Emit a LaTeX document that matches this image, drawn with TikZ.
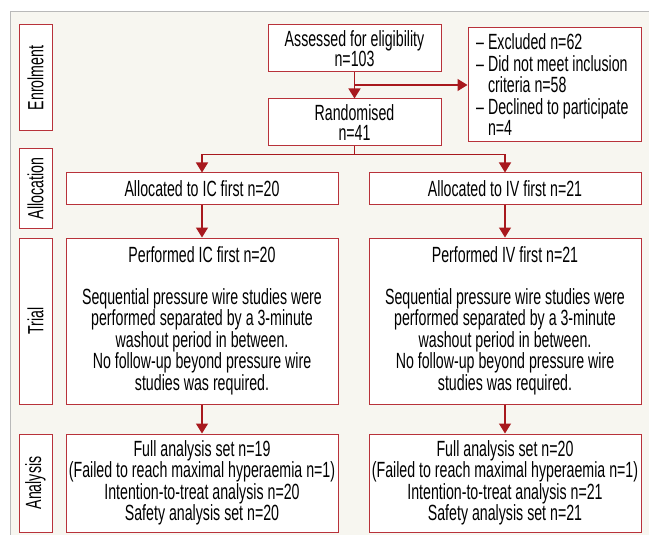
\documentclass[tikz,border=0pt]{standalone}
\usepackage{fontspec}
\setmainfont[FakeStretch=0.645]{Liberation Sans}
\usepackage{tikz}
\usetikzlibrary{arrows.meta,calc}

\definecolor{boxred}{HTML}{B8323A}
\definecolor{arrred}{HTML}{A8191E}
\definecolor{panel}{HTML}{F7F6F0}

\begin{document}
\begin{tikzpicture}[x=1pt, y=-1pt,
    box/.style={draw=boxred, fill=white, line width=1pt, align=center, inner sep=0pt,
      font=\fontsize{22}{20.5}\selectfont},
    side/.style={box, rotate=90, minimum height=33pt},
    arr/.style={draw=arrred, line width=1.4pt, -{Triangle[width=12pt,length=10pt]}},
    link/.style={draw=arrred, line width=1.4pt}]
    \useasboundingbox (0,0) rectangle (649,535);
    \fill[panel] (10,12) rectangle (649,535);
    \draw[gray!55, line width=1pt] (10,535) -- (10,12) -- (649,12);

    % stage labels on the left
    \foreach \name/\y/\h in {Enrolment/78/106, Allocation/188.5/79, Trial/321/166, Analysis/483/98}
      \node[side, minimum width=\h pt] (side-\name) at (35.5,\y) {\name};

    \node[box, minimum width=173pt, minimum height=47pt] (assess) at (354.5,48.5)
      {Assessed for eligibility\\n=103};
    \node[box, minimum width=173pt, minimum height=47pt] (rand) at (354.5,122.5)
      {Randomised\\n=41};
    \node[box, minimum width=173pt, minimum height=114pt] (excl) at (554.5,85) {};
    \node[anchor=west, align=left, inner sep=0pt, font=\fontsize{22}{21.5}\selectfont] (excltxt) at (476,85)
      {– Excluded n=62\\– Did not meet inclusion\\\phantom{– }criteria n=58\\– Declined to participate\\\phantom{– }n=4};

    \node[box, minimum width=272pt, minimum height=31pt] (allocIC) at (202,188.5)
      {Allocated to IC first n=20};
    \node[box, minimum width=272pt, minimum height=31pt] (allocIV) at (505,188.5)
      {Allocated to IV first n=21};

    \node[box, minimum width=272pt, minimum height=166pt] (perfIC) at (202,321)
      {Performed IC first n=20\\[21pt]Sequential pressure wire studies were\\performed separated by a 3-minute\\washout period in between.\\No follow-up beyond pressure wire\\studies was required.};
    \node[box, minimum width=272pt, minimum height=166pt] (perfIV) at (505,321)
      {Performed IV first n=21\\[21pt]Sequential pressure wire studies were\\performed separated by a 3-minute\\washout period in between.\\No follow-up beyond pressure wire\\studies was required.};

    \node[box, minimum width=272pt, minimum height=98pt] (anaIC) at (202,483)
      {Full analysis set n=19\\(Failed to reach maximal hyperaemia n=1)\\Intention-to-treat analysis n=20\\Safety analysis set n=20};
    \node[box, minimum width=272pt, minimum height=98pt] (anaIV) at (505,483)
      {Full analysis set n=20\\(Failed to reach maximal hyperaemia n=1)\\Intention-to-treat analysis n=21\\Safety analysis set n=21};

    % connectors
    \draw[arr] (assess.south) -- (rand.north);
    \coordinate (split) at (assess.south |- excl.west);
    \draw[arr] (split) -- (excl.west);
    \draw[link] (rand.south) -- ++(0,8) coordinate (fork);
    \draw[arr] (fork) -| (allocIC.north);
    \draw[arr] (fork) -| (allocIV.north);
    \draw[arr] (allocIC) -- (perfIC);
    \draw[arr] (allocIV) -- (perfIV);
    \draw[arr] (perfIC) -- (anaIC);
    \draw[arr] (perfIV) -- (anaIV);
\end{tikzpicture}
\end{document}
